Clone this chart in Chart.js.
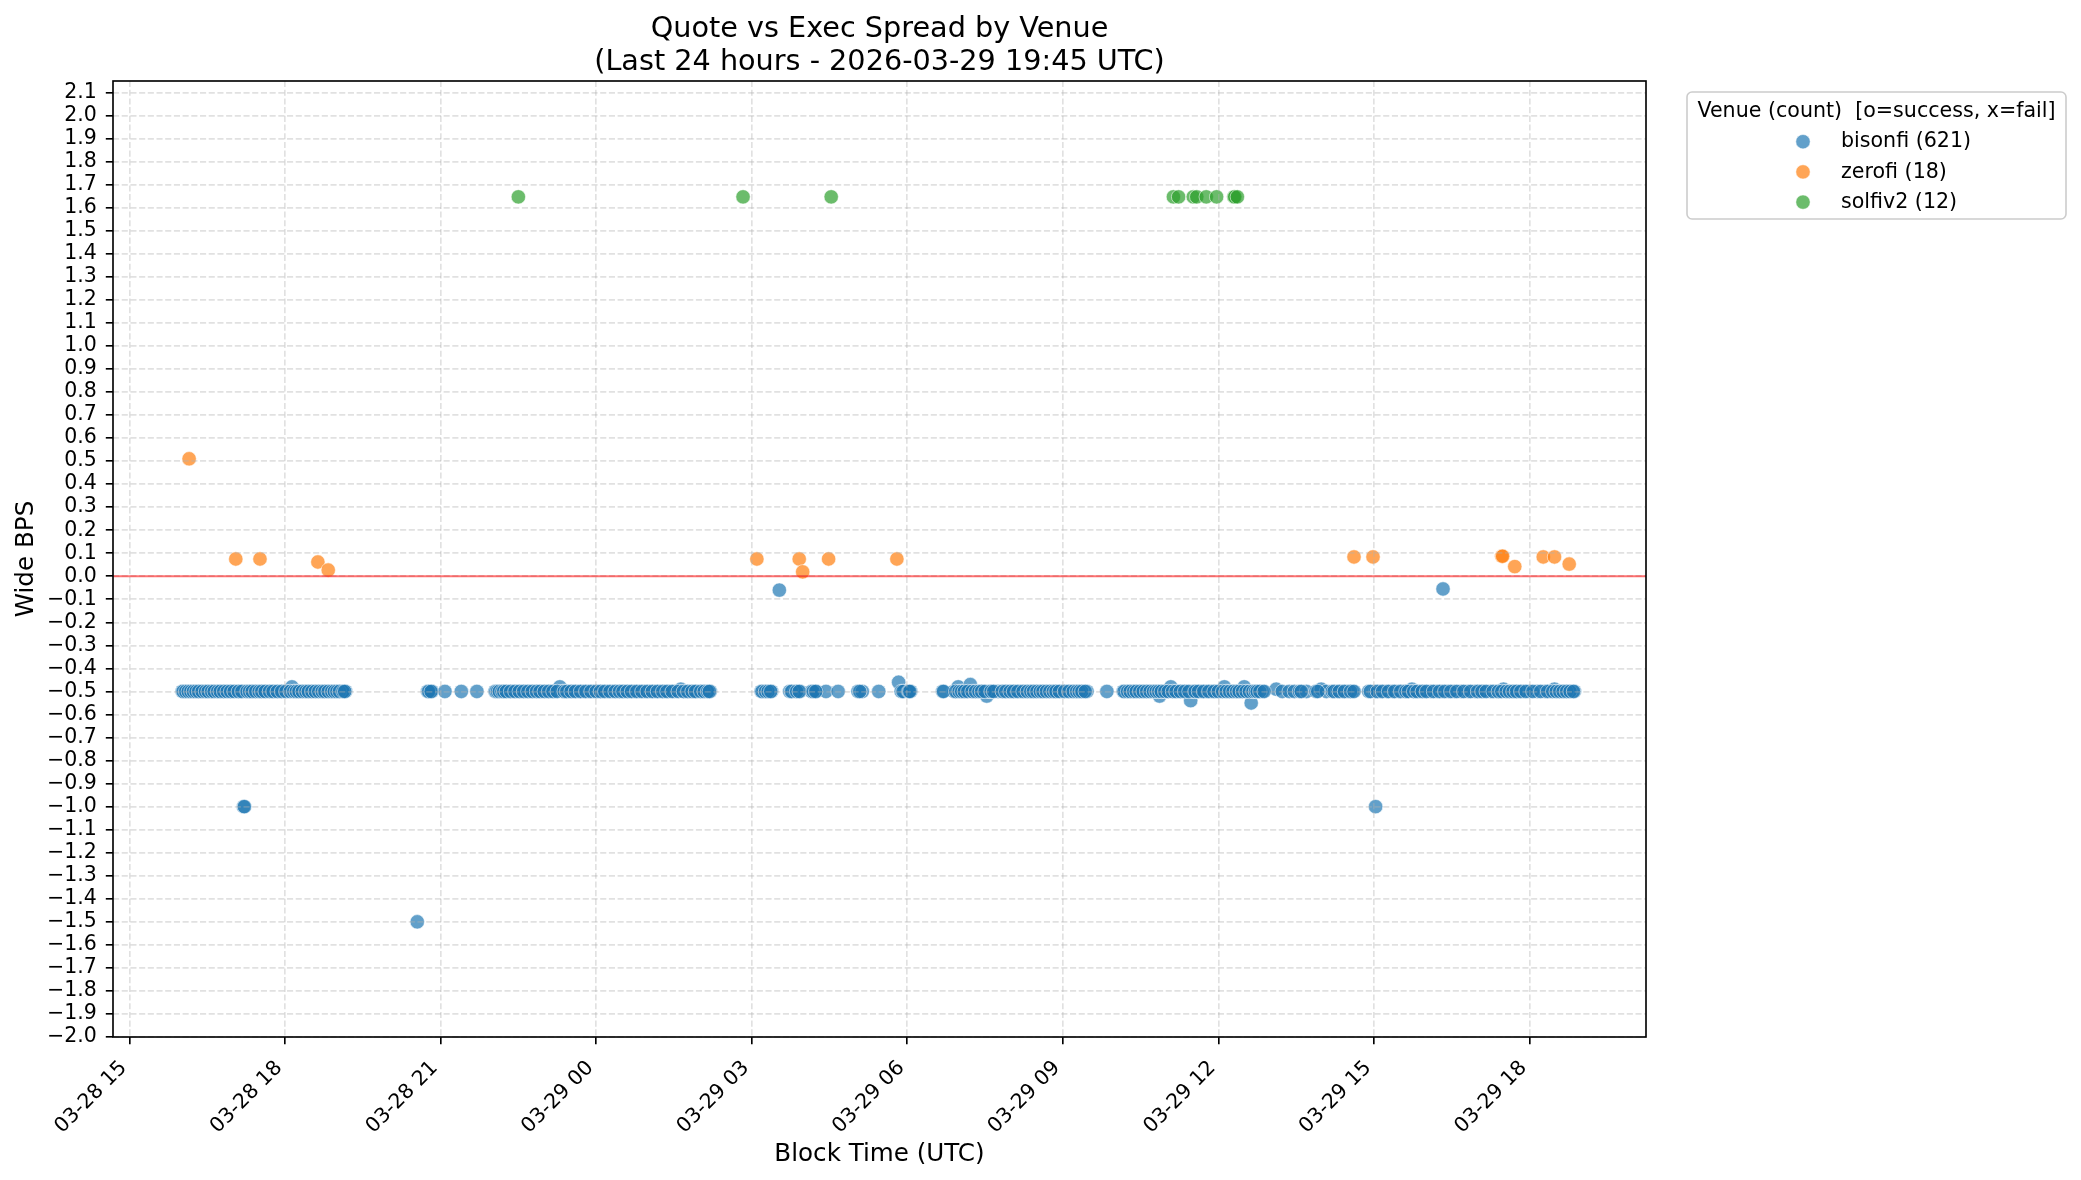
<!DOCTYPE html>
<html><head><meta charset="utf-8">
<script src="https://cdn.jsdelivr.net/npm/chart.js@4.4.1/dist/chart.umd.min.js"></script>
<style>html,body{margin:0;padding:0;background:#fff;overflow:hidden}#wrap{width:2081px;height:1180px;position:relative}</style>
</head><body><div id="wrap"><canvas id="c" width="2081" height="1180"></canvas></div>
<script>
const titleLines = ['Quote vs Exec Spread by Venue', '(Last 24 hours - 2026-03-29 19:45 UTC)'];
const xAxisTitle = 'Block Time (UTC)';
const yAxisTitle = 'Wide BPS';
const legendTitle = 'Venue (count)  [o=success, x=fail]';
const venueLabels = ['bisonfi (621)', 'zerofi (18)', 'solfiv2 (12)'];
const venueColors = ['rgba(31,119,180,0.7)', 'rgba(255,127,14,0.7)', 'rgba(44,160,44,0.7)'];

const xTickHours = [15, 18, 21, 24, 27, 30, 33, 36, 39, 42];
const xTickLabels = ['03-28 15','03-28 18','03-28 21','03-29 00','03-29 03','03-29 06','03-29 09','03-29 12','03-29 15','03-29 18'];
const yTickValues = [-2.0,-1.9,-1.8,-1.7,-1.6,-1.5,-1.4,-1.3,-1.2,-1.1,-1.0,-0.9,-0.8,-0.7,-0.6,-0.5,-0.4,-0.3,-0.2,-0.1,0.0,0.1,0.2,0.3,0.4,0.5,0.6,0.7,0.8,0.9,1.0,1.1,1.2,1.3,1.4,1.5,1.6,1.7,1.8,1.9,2.0,2.1];
const yTickLabels = ['\u22122.0','\u22121.9','\u22121.8','\u22121.7','\u22121.6','\u22121.5','\u22121.4','\u22121.3','\u22121.2','\u22121.1','\u22121.0','\u22120.9','\u22120.8','\u22120.7','\u22120.6','\u22120.5','\u22120.4','\u22120.3','\u22120.2','\u22120.1','0.0','0.1','0.2','0.3','0.4','0.5','0.6','0.7','0.8','0.9','1.0','1.1','1.2','1.3','1.4','1.5','1.6','1.7','1.8','1.9','2.0','2.1'];

// times as 'DD HH:MM' (UTC, March 2026)
const bisonfiTimes = [
 '28 16:01','28 16:03','28 16:06','28 16:09','28 16:12','28 16:15','28 16:19','28 16:22','28 16:26','28 16:30',
 '28 16:33','28 16:36','28 16:40','28 16:43','28 16:47','28 16:50','28 16:55','28 16:58','28 17:04','28 17:08',
 '28 17:11','28 17:12','28 17:13','28 17:14','28 17:17','28 17:20','28 17:24','28 17:28','28 17:31','28 17:35',
 '28 17:39','28 17:44','28 17:48','28 17:53','28 17:58','28 18:03','28 18:08','28 18:11','28 18:14','28 18:18',
 '28 18:22','28 18:25','28 18:29','28 18:33','28 18:36','28 18:41','28 18:44','28 18:48','28 18:52','28 18:55',
 '28 18:58','28 19:02','28 19:04','28 19:06','28 19:08','28 19:10','28 20:33',
 '28 20:45','28 20:47','28 20:50','28 21:05','28 21:24','28 21:42','28 22:03','28 22:05','28 22:07','28 22:09',
 '28 22:12','28 22:14','28 22:19','28 22:24','28 22:28','28 22:33','28 22:38','28 22:43','28 22:48','28 22:53',
 '28 22:57','28 23:02','28 23:07','28 23:12','28 23:18','28 23:21','28 23:24','28 23:28','28 23:33','28 23:39',
 '28 23:45','28 23:51','28 23:57','29 00:02','29 00:07','29 00:13','29 00:19','29 00:24','29 00:29','29 00:33',
 '29 00:38','29 00:44','29 00:50','29 00:56','29 01:02','29 01:08','29 01:14','29 01:19','29 01:24','29 01:31',
 '29 01:38','29 01:43','29 01:48','29 01:53','29 01:57','29 02:03','29 02:07','29 02:10','29 02:12',
 '29 03:11','29 03:14','29 03:17','29 03:20','29 03:23','29 03:32','29 03:44','29 03:47','29 03:50','29 03:53',
 '29 03:56','29 04:09','29 04:12','29 04:15','29 04:26','29 04:40','29 05:03','29 05:08','29 05:27','29 05:50',
 '29 05:53','29 05:56','29 06:01','29 06:04',
 '29 06:41','29 06:54','29 06:57','29 06:59','29 07:02','29 07:04','29 07:08','29 07:13','29 07:17','29 07:21',
 '29 07:24','29 07:27','29 07:32','29 07:35','29 07:38','29 07:45','29 07:52','29 07:55','29 07:57','29 08:01',
 '29 08:05','29 08:11','29 08:17','29 08:21','29 08:24','29 08:28','29 08:32','29 08:35','29 08:38','29 08:43',
 '29 08:47','29 08:50','29 08:53','29 08:59','29 09:05','29 09:10','29 09:14','29 09:17','29 09:20','29 09:24',
 '29 09:28','29 09:51','29 10:10','29 10:13','29 10:16','29 10:20','29 10:23','29 10:27','29 10:31','29 10:35',
 '29 10:39','29 10:43','29 10:46','29 10:49','29 10:52','29 10:56','29 11:00','29 11:05','29 11:09','29 11:13',
 '29 11:18','29 11:23','29 11:28','29 11:31','29 11:34','29 11:40','29 11:46','29 11:52','29 11:57','29 12:03',
 '29 12:07','29 12:11','29 12:15','29 12:19','29 12:22','29 12:26','29 12:30','29 12:34','29 12:38','29 12:41',
 '29 12:44','29 12:46','29 12:51','29 13:07','29 13:14','29 13:22','29 13:28','29 13:34','29 13:42','29 13:53',
 '29 13:59','29 14:05','29 14:12','29 14:18','29 14:24','29 14:30','29 14:35','29 14:54','29 15:02','29 15:02',
 '29 15:08','29 15:15','29 15:22','29 15:29','29 15:35','29 15:38','29 15:44','29 15:48','29 15:53','29 15:59',
 '29 16:06','29 16:13','29 16:19','29 16:20','29 16:26','29 16:33','29 16:41','29 16:49','29 16:57','29 17:02',
 '29 17:07','29 17:15','29 17:22','29 17:26','29 17:30','29 17:35','29 17:39','29 17:43','29 17:47','29 17:53',
 '29 18:00','29 18:09','29 18:18','29 18:24','29 18:29','29 18:33','29 18:37','29 18:41','29 18:45','29 18:49',
 '29 18:52'
];
const bisonfiValues = [
 -0.5,-0.5,-0.5,-0.5,-0.5,-0.5,-0.5,-0.5,-0.5,-0.5,
 -0.5,-0.5,-0.5,-0.5,-0.5,-0.5,-0.5,-0.5,-0.5,-0.5,
 -0.5,-1.0,-1.0,-0.5,-0.5,-0.5,-0.5,-0.5,-0.5,-0.5,
 -0.5,-0.5,-0.5,-0.5,-0.5,-0.5,-0.48,-0.5,-0.5,-0.5,
 -0.5,-0.5,-0.5,-0.5,-0.5,-0.5,-0.5,-0.5,-0.5,-0.5,
 -0.5,-0.5,-0.5,-0.5,-0.5,-0.5,-1.5,
 -0.5,-0.5,-0.5,-0.5,-0.5,-0.5,-0.5,-0.5,-0.5,-0.5,
 -0.5,-0.5,-0.5,-0.5,-0.5,-0.5,-0.5,-0.5,-0.5,-0.5,
 -0.5,-0.5,-0.5,-0.5,-0.48,-0.5,-0.5,-0.5,-0.5,-0.5,
 -0.5,-0.5,-0.5,-0.5,-0.5,-0.5,-0.5,-0.5,-0.5,-0.5,
 -0.5,-0.5,-0.5,-0.5,-0.5,-0.5,-0.5,-0.5,-0.5,-0.5,
 -0.49,-0.5,-0.5,-0.5,-0.5,-0.5,-0.5,-0.5,-0.5,
 -0.5,-0.5,-0.5,-0.5,-0.5,-0.06,-0.5,-0.5,-0.5,-0.5,
 -0.5,-0.5,-0.5,-0.5,-0.5,-0.5,-0.5,-0.5,-0.5,-0.46,
 -0.5,-0.5,-0.5,-0.5,
 -0.5,-0.5,-0.5,-0.48,-0.5,-0.5,-0.5,-0.47,-0.5,-0.5,
 -0.5,-0.5,-0.52,-0.5,-0.5,-0.5,-0.5,-0.5,-0.5,-0.5,
 -0.5,-0.5,-0.5,-0.5,-0.5,-0.5,-0.5,-0.5,-0.5,-0.5,
 -0.5,-0.5,-0.5,-0.5,-0.5,-0.5,-0.5,-0.5,-0.5,-0.5,
 -0.5,-0.5,-0.5,-0.5,-0.5,-0.5,-0.5,-0.5,-0.5,-0.5,
 -0.5,-0.5,-0.5,-0.5,-0.52,-0.5,-0.5,-0.48,-0.5,-0.5,
 -0.5,-0.5,-0.54,-0.5,-0.5,-0.5,-0.5,-0.5,-0.5,-0.5,
 -0.48,-0.5,-0.5,-0.5,-0.5,-0.5,-0.48,-0.5,-0.55,-0.5,
 -0.5,-0.5,-0.5,-0.49,-0.5,-0.5,-0.5,-0.5,-0.5,-0.5,
 -0.49,-0.5,-0.5,-0.5,-0.5,-0.5,-0.5,-0.5,-1.0,-0.5,
 -0.5,-0.5,-0.5,-0.5,-0.5,-0.5,-0.49,-0.5,-0.5,-0.5,
 -0.5,-0.5,-0.5,-0.055,-0.5,-0.5,-0.5,-0.5,-0.5,-0.5,
 -0.5,-0.5,-0.5,-0.5,-0.49,-0.5,-0.5,-0.5,-0.5,-0.5,
 -0.5,-0.5,-0.5,-0.5,-0.49,-0.5,-0.5,-0.5,-0.5,-0.5,
 -0.5
];
// further bisonfi fills that overlap the ones above (dense stretches)
const bisonfiDenseTimes = [
 '28 16:02','28 16:05','28 16:08','28 16:11','28 16:14','28 16:17','28 16:20','28 16:24','28 16:28','28 16:31',
 '28 16:35','28 16:38','28 16:42','28 16:45','28 16:49','28 16:53','28 16:57','28 17:01','28 17:06','28 17:10',
 '28 17:16','28 17:19','28 17:22','28 17:26','28 17:30','28 17:33','28 17:37','28 17:42','28 17:46','28 17:51',
 '28 17:56','28 18:01','28 18:06','28 18:10','28 18:13','28 18:16','28 18:20','28 18:24','28 18:27','28 18:31',
 '28 18:35','28 18:39','28 18:43','28 18:46','28 18:50','28 18:54','28 18:57','28 19:00','28 19:03','28 19:07',
 '28 19:09','28 20:46','28 20:49','28 22:04','28 22:06','28 22:08','28 22:11','28 22:13','28 22:16','28 22:21',
 '28 22:26','28 22:31','28 22:36','28 22:41','28 22:46','28 22:51','28 22:55','28 23:00','28 23:05','28 23:10',
 '28 23:15','28 23:23','28 23:26','28 23:31','28 23:36','28 23:42','28 23:48','28 23:54','29 00:00','29 00:05',
 '29 00:10','29 00:16','29 00:22','29 00:27','29 00:31','29 00:36','29 00:41','29 00:47','29 00:53','29 00:59',
 '29 01:05','29 01:11','29 01:17','29 01:22','29 01:28','29 01:35','29 01:41','29 01:46','29 01:51','29 01:55',
 '29 02:01','29 02:05','29 02:09','29 02:11','29 03:12','29 03:16','29 03:19','29 03:22','29 03:46','29 03:52',
 '29 03:55','29 04:11','29 04:14','29 05:05','29 05:55','29 06:02','29 06:03','29 06:42','29 06:56','29 07:00',
 '29 07:03','29 07:06','29 07:10','29 07:15','29 07:19','29 07:23','29 07:26','29 07:30','29 07:37','29 07:40',
 '29 07:50','29 07:54','29 07:59','29 08:03','29 08:08','29 08:14','29 08:19','29 08:23','29 08:26','29 08:30',
 '29 08:34','29 08:37','29 08:41','29 08:45','29 08:49','29 08:52','29 08:56','29 09:02','29 09:07','29 09:12',
 '29 09:16','29 09:19','29 09:22','29 09:26','29 10:11','29 10:15','29 10:18','29 10:22','29 10:25','29 10:29',
 '29 10:33','29 10:37','29 10:41','29 10:45','29 10:48','29 10:51','29 10:54','29 10:58','29 11:02','29 11:07',
 '29 11:11','29 11:16','29 11:21','29 11:26','29 11:33','29 11:37','29 11:43','29 11:49','29 11:55','29 12:00',
 '29 12:05','29 12:09','29 12:13','29 12:17','29 12:21','29 12:24','29 12:28','29 12:32','29 12:36','29 12:40',
 '29 12:43','29 12:45','29 12:48','29 12:53','29 13:36','29 13:55','29 14:14','29 14:20','29 14:26','29 14:33',
 '29 14:37','29 14:56','29 15:04','29 15:10','29 15:17','29 15:24','29 15:31','29 15:37','29 15:40','29 15:46',
 '29 15:50','29 15:56','29 16:01','29 16:09','29 16:16','29 16:22','29 16:29','29 16:36','29 16:44','29 16:52',
 '29 17:00','29 17:05','29 17:10','29 17:18','29 17:24','29 17:28','29 17:33','29 17:37','29 17:41','29 17:45',
 '29 17:50','29 17:56','29 18:04','29 18:13','29 18:21','29 18:27','29 18:31','29 18:35','29 18:39','29 18:43',
 '29 18:47','29 18:51'
];
const bisonfiDenseValues = [
 -0.5,-0.5,-0.5,-0.5,-0.5,-0.5,-0.5,-0.5,-0.5,-0.5,
 -0.5,-0.5,-0.5,-0.5,-0.5,-0.5,-0.5,-0.5,-0.5,-0.5,
 -0.5,-0.5,-0.5,-0.5,-0.5,-0.5,-0.5,-0.5,-0.5,-0.5,
 -0.5,-0.5,-0.5,-0.5,-0.5,-0.5,-0.5,-0.5,-0.5,-0.5,
 -0.5,-0.5,-0.5,-0.5,-0.5,-0.5,-0.5,-0.5,-0.5,-0.5,
 -0.5,-0.5,-0.5,-0.5,-0.5,-0.5,-0.5,-0.5,-0.5,-0.5,
 -0.5,-0.5,-0.5,-0.5,-0.5,-0.5,-0.5,-0.5,-0.5,-0.5,
 -0.5,-0.5,-0.5,-0.5,-0.5,-0.5,-0.5,-0.5,-0.5,-0.5,
 -0.5,-0.5,-0.5,-0.5,-0.5,-0.5,-0.5,-0.5,-0.5,-0.5,
 -0.5,-0.5,-0.5,-0.5,-0.5,-0.5,-0.5,-0.5,-0.5,-0.5,
 -0.5,-0.5,-0.5,-0.5,-0.5,-0.5,-0.5,-0.5,-0.5,-0.5,
 -0.5,-0.5,-0.5,-0.5,-0.5,-0.5,-0.5,-0.5,-0.5,-0.5,
 -0.5,-0.5,-0.5,-0.5,-0.5,-0.5,-0.5,-0.5,-0.5,-0.5,
 -0.5,-0.5,-0.5,-0.5,-0.5,-0.5,-0.5,-0.5,-0.5,-0.5,
 -0.5,-0.5,-0.5,-0.5,-0.5,-0.5,-0.5,-0.5,-0.5,-0.5,
 -0.5,-0.5,-0.5,-0.5,-0.5,-0.5,-0.5,-0.5,-0.5,-0.5,
 -0.5,-0.5,-0.5,-0.5,-0.5,-0.5,-0.5,-0.5,-0.5,-0.5,
 -0.5,-0.5,-0.5,-0.5,-0.5,-0.5,-0.5,-0.5,-0.5,-0.5,
 -0.5,-0.5,-0.5,-0.5,-0.5,-0.5,-0.5,-0.5,-0.5,-0.5,
 -0.5,-0.5,-0.5,-0.5,-0.5,-0.5,-0.5,-0.5,-0.5,-0.5,
 -0.5,-0.5,-0.5,-0.5,-0.5,-0.5,-0.5,-0.5,-0.5,-0.5,
 -0.5,-0.5,-0.5,-0.5,-0.5,-0.5,-0.5,-0.5,-0.5,-0.5,
 -0.5,-0.5,-0.5,-0.5,-0.5,-0.5,-0.5,-0.5,-0.5,-0.5,
 -0.5,-0.5,-0.5,-0.5,-0.5,-0.5,-0.5,-0.5,-0.5,-0.5,
 -0.5,-0.5
];
const zerofiTimes = ['28 16:09','28 17:03','28 17:31','28 18:38','28 18:50','29 03:06','29 03:55','29 03:59','29 04:29','29 05:48','29 14:37','29 14:59','29 17:28','29 17:29','29 17:43','29 18:16','29 18:29','29 18:46'];
const zerofiValues = [0.51, 0.075, 0.075, 0.062, 0.027, 0.075, 0.075, 0.019, 0.075, 0.075, 0.084, 0.084, 0.087, 0.087, 0.042, 0.084, 0.084, 0.053];
const solfiTimes = ['28 22:30','29 02:50','29 04:32','29 11:08','29 11:14','29 11:31','29 11:35','29 11:46','29 11:58','29 12:18','29 12:19','29 12:22'];
const solfiValues = [1.647, 1.647, 1.647, 1.647, 1.647, 1.647, 1.647, 1.647, 1.647, 1.647, 1.647, 1.647];

function toHours(s) {
  const parts = s.split(' ');
  const hm = parts[1].split(':');
  return (Number(parts[0]) - 28) * 24 + Number(hm[0]) + Number(hm[1]) / 60;
}
function pts(times, values) { return times.map((t, i) => ({x: toHours(t), y: values[i]})); }

const FONT = 'DejaVu Sans';
Chart.defaults.font.family = FONT;
Chart.defaults.color = '#000';

const gridColor = 'rgba(176,176,176,0.38)';
const dash = [6.1, 2.6];
const R = 7.2;

const overlay = {
  id: 'overlay',
  afterDraw(chart) {
    const ctx = chart.ctx;
    const a = chart.chartArea;
    const xs = chart.scales.x, ys = chart.scales.y;
    ctx.save();
    const y0 = ys.getPixelForValue(0);
    ctx.strokeStyle = 'rgba(255,0,0,0.55)';
    ctx.lineWidth = 2;
    ctx.beginPath(); ctx.moveTo(a.left, y0); ctx.lineTo(a.right, y0); ctx.stroke();
    ctx.strokeStyle = '#000';
    ctx.lineWidth = 1.64;
    ctx.strokeRect(a.left, a.top, a.right - a.left, a.bottom - a.top);
    ctx.fillStyle = '#000';
    ctx.font = '20.5px "' + FONT + '"';
    ctx.textAlign = 'right';
    ctx.textBaseline = 'alphabetic';
    xTickHours.forEach((h, i) => {
      const px = xs.getPixelForValue(h);
      ctx.save();
      ctx.translate(px - 2, a.bottom + 31.5);
      ctx.rotate(-Math.PI / 4);
      ctx.fillText(xTickLabels[i], 0, 0);
      ctx.restore();
    });
    ctx.font = '24.6px "' + FONT + '"';
    ctx.textAlign = 'center';
    const cx = (a.left + a.right) / 2;
    ctx.fillText(xAxisTitle, cx, 1161);
    ctx.save();
    ctx.translate(33.3, (a.top + a.bottom) / 2);
    ctx.rotate(-Math.PI / 2);
    ctx.fillText(yAxisTitle, 0, 0);
    ctx.restore();
    ctx.font = '28.7px "' + FONT + '"';
    ctx.fillText(titleLines[0], cx, 37);
    ctx.fillText(titleLines[1], cx, 70);
    const lx = 1687, ly = 92, lw = 379, lh = 127;
    ctx.beginPath();
    ctx.roundRect(lx, ly, lw, lh, 5);
    ctx.fillStyle = 'rgba(255,255,255,0.8)';
    ctx.fill();
    ctx.strokeStyle = '#cccccc';
    ctx.lineWidth = 1.6;
    ctx.stroke();
    ctx.fillStyle = '#000';
    ctx.font = '20.6px "' + FONT + '"';
    ctx.textAlign = 'center';
    ctx.fillText(legendTitle, lx + lw / 2, 117.3);
    ctx.textAlign = 'left';
    venueLabels.forEach((lab, i) => {
      const my = 141.7 + i * 30.2;
      ctx.beginPath();
      ctx.arc(1803, my, R, 0, Math.PI * 2);
      ctx.fillStyle = venueColors[i];
      ctx.fill();
      ctx.strokeStyle = 'rgba(255,255,255,0.7)';
      ctx.lineWidth = 0.8;
      ctx.stroke();
      ctx.fillStyle = '#000';
      ctx.fillText(lab, 1841, my + 5.6);
    });
    ctx.restore();
  }
};

const gridOpts = {color: gridColor, lineWidth: 1.64, tickLength: 7.2, tickColor: '#000', tickWidth: 1.64, tickBorderDash: [], borderDash: dash, z: 1};

new Chart(document.getElementById('c'), {
  type: 'scatter',
  data: {
    datasets: [
      {label: venueLabels[0], data: pts(bisonfiTimes, bisonfiValues).concat(pts(bisonfiDenseTimes, bisonfiDenseValues)), backgroundColor: venueColors[0], borderColor: 'rgba(255,255,255,0.7)', borderWidth: 0.8, pointRadius: R, order: 3},
      {label: venueLabels[1], data: pts(zerofiTimes, zerofiValues), backgroundColor: venueColors[1], borderColor: 'rgba(255,255,255,0.7)', borderWidth: 0.8, pointRadius: R, order: 2},
      {label: venueLabels[2], data: pts(solfiTimes, solfiValues), backgroundColor: venueColors[2], borderColor: 'rgba(255,255,255,0.7)', borderWidth: 0.8, pointRadius: R, order: 1}
    ]
  },
  options: {
    responsive: false,
    devicePixelRatio: 1,
    animation: false,
    events: [],
    layout: {padding: {left: 0, right: 435, top: 81, bottom: 0}},
    plugins: {legend: {display: false}, tooltip: {enabled: false}, title: {display: false}},
    scales: {
      x: {
        type: 'linear', min: 14.682, max: 44.248,
        afterBuildTicks: s => { s.ticks = xTickHours.map(v => ({value: v})); },
        afterFit: s => { s.height = 143; },
        ticks: {display: false},
        grid: gridOpts,
        border: {display: false, dash: dash}
      },
      y: {
        type: 'linear', min: -2.0, max: 2.15,
        afterBuildTicks: s => { s.ticks = yTickValues.map(v => ({value: v})); },
        afterFit: s => { s.width = 113; },
        ticks: {autoSkip: false, padding: 9, color: '#000', font: {family: FONT, size: 20.5},
                callback: (v, i) => yTickLabels[i]},
        grid: gridOpts,
        border: {display: false, dash: dash}
      }
    }
  },
  plugins: [overlay]
});
</script></body></html>
